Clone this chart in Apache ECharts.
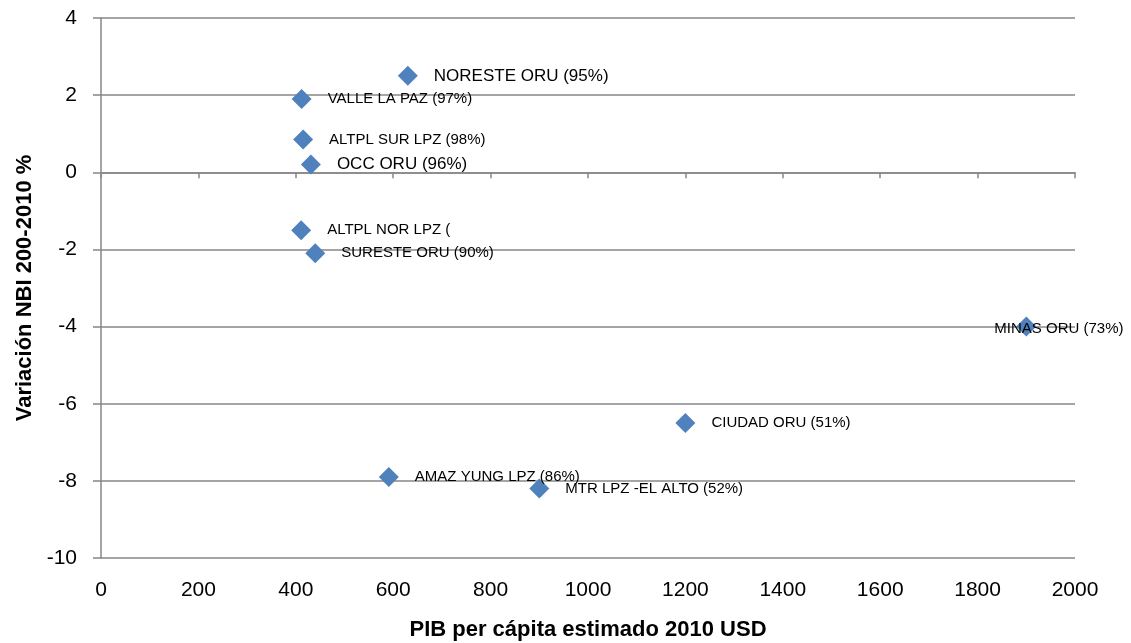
<!DOCTYPE html>
<html>
<head>
<meta charset="utf-8">
<script src="https://cdn.jsdelivr.net/npm/echarts@6/dist/echarts.min.js"></script>
<style>
html,body{margin:0;padding:0;background:#fff;}
#chart{width:1131px;height:643px;}
</style>
</head>
<body>
<div id="chart"></div>
<script>
// Data
const regions = ['NORESTE ORU (95%)','VALLE LA PAZ (97%)','ALTPL SUR LPZ (98%)','OCC ORU (96%)','ALTPL NOR LPZ (','SURESTE ORU (90%)','MINAS ORU (73%)','CIUDAD ORU (51%)','AMAZ YUNG LPZ (86%)','MTR LPZ -EL ALTO (52%)'];
const pibPerCapita = [630, 412, 415, 431, 411, 440, 1900, 1200, 591, 900];
const variacionNBI = [2.5, 1.9, 0.85, 0.2, -1.5, -2.1, -4.0, -6.5, -7.9, -8.2];
const xTicks = [0, 200, 400, 600, 800, 1000, 1200, 1400, 1600, 1800, 2000];
const yTicks = [-10, -8, -6, -4, -2, 0, 2, 4];

// Label styling (kept separate from data)
const FONT = '"Liberation Sans",Arial,sans-serif';
const labelStyle = {
  'NORESTE ORU (95%)': {fontSize: 17},
  'OCC ORU (96%)': {fontSize: 17},
  'MINAS ORU (73%)': {position: [-22, 12], align: 'left', verticalAlign: 'middle'},
  'MTR LPZ -EL ALTO (52%)': {offset: [0, 3]}
};

const data = regions.map((n, i) => {
  const item = {name: n, value: [pibPerCapita[i], variacionNBI[i]]};
  if (labelStyle[n]) item.label = labelStyle[n];
  return item;
});

const gridColor = '#878787';
const chart = echarts.init(document.getElementById('chart'), null, {renderer: 'canvas'});
chart.setOption({
  animation: false,
  backgroundColor: '#ffffff',
  grid: {left: 101, right: 56, top: 18, bottom: 85, containLabel: false, outerBoundsMode: 'none'},
  xAxis: [
    {
      type: 'value', min: xTicks[0], max: xTicks[xTicks.length - 1], interval: xTicks[1] - xTicks[0],
      position: 'bottom',
      axisLine: {show: false, onZero: false},
      axisTick: {show: false},
      splitLine: {show: false},
      axisLabel: {margin: 22, fontFamily: FONT, fontSize: 21, color: '#000', formatter: v => String(v)},
      name: 'PIB per cápita estimado 2010 USD',
      nameLocation: 'middle',
      nameGap: 61,
      nameTextStyle: {fontFamily: FONT, fontWeight: 'bold', fontSize: 22, color: '#000'}
    },
    {
      type: 'value', min: xTicks[0], max: xTicks[xTicks.length - 1], interval: xTicks[1] - xTicks[0],
      position: 'bottom',
      axisLine: {show: true, onZero: true, lineStyle: {color: gridColor, width: 1.5}},
      axisTick: {show: true, length: 6, lineStyle: {color: gridColor, width: 1.5}},
      axisLabel: {show: false},
      splitLine: {show: false}
    }
  ],
  yAxis: {
    type: 'value', min: yTicks[0], max: yTicks[yTicks.length - 1], interval: yTicks[1] - yTicks[0],
    axisLine: {show: true, onZero: false, lineStyle: {color: gridColor, width: 1.5}},
    axisTick: {show: true, length: 8, lineStyle: {color: gridColor, width: 1.5}},
    splitLine: {show: true, lineStyle: {color: gridColor, width: 1.5}},
    axisLabel: {margin: 24, fontFamily: FONT, fontSize: 21, color: '#000'},
    name: 'Variación NBI 200-2010 %',
    nameLocation: 'middle',
    nameGap: 63,
    nameTextStyle: {fontFamily: FONT, fontWeight: 'bold', fontSize: 22, color: '#000'}
  },
  series: [{
    type: 'scatter',
    symbol: 'diamond',
    symbolSize: 20,
    itemStyle: {color: '#4F81BD', opacity: 1},
    data: data,
    label: {
      show: true,
      position: 'right',
      distance: 16,
      formatter: p => p.name,
      fontFamily: FONT,
      fontSize: 15,
      color: '#000'
    },
    labelLayout: {hideOverlap: false}
  }]
});
</script>
</body>
</html>
